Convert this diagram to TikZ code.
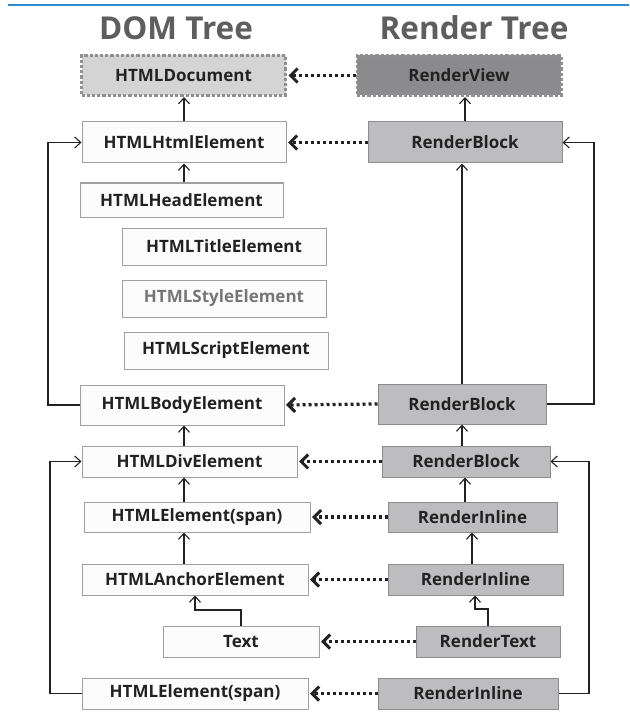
\documentclass[tikz,border=0pt]{standalone}
\usepackage{fontspec}
\setmainfont{Open Sans}
\usetikzlibrary{arrows.meta}
\definecolor{rule}{HTML}{2A8FD0}
\definecolor{headc}{HTML}{5E5E5E}
\definecolor{txt}{HTML}{222222}
\definecolor{domfill}{HTML}{FCFCFC}
\definecolor{domline}{HTML}{A0A0A0}
\definecolor{renfill}{HTML}{BDBDBF}
\definecolor{renline}{HTML}{8C8C8C}
\definecolor{viewfill}{HTML}{8B8B8D}
\definecolor{docfill}{HTML}{D4D4D4}
\definecolor{lnk}{HTML}{222222}
\begin{document}
\begin{tikzpicture}[x=1pt,y=-1pt,
  box/.style={rectangle, inner sep=0pt, line width=1pt, text=txt,
    font=\bfseries\fontsize{17}{20}\selectfont},
  dombox/.style={box, draw=domline, fill=domfill},
  renbox/.style={box, draw=renline, fill=renfill},
  rootbox/.style={box, draw=domline!90!black, line width=3pt, dash pattern=on 3.2pt off 2pt},
  title/.style={text=headc, font=\bfseries\fontsize{31.5}{36}\selectfont},
  link/.style={draw=lnk, line width=1.1pt,
    -{Straight Barb[length=6pt,width=11pt,line width=1.1pt]}},
  mapto/.style={draw=lnk, line width=3.2pt, dash pattern=on 3pt off 3pt, shorten >=1.5pt,
    -{Straight Barb[length=7pt,width=14pt,line width=3pt]}}]
\useasboundingbox (0,0) rectangle (629,714);
\fill[white] (0,0) rectangle (629,714);
% top rule
\coordinate (r1) at (8,5);
\coordinate (r2) at (629,5);
\draw[rule, line width=1.4pt] (r1) -- (r2);
% headings
\node[title] (tdom) at (176,28) {DOM Tree};
\node[title] (tren) at (474,28) {Render Tree};
% DOM tree
\node[rootbox, fill=docfill, minimum width=204pt, minimum height=40pt] (doc) at (183.5,75.5) {HTMLDocument};
\node[dombox, minimum width=204pt, minimum height=41pt] (html) at (184,142.5) {HTMLHtmlElement};
\node[dombox, minimum width=203pt, minimum height=34pt] (head) at (181.5,200) {HTMLHeadElement};
\node[dombox, minimum width=204pt, minimum height=37pt] (titl) at (224,246.5) {HTMLTitleElement};
\node[dombox, minimum width=204pt, minimum height=37pt, text=headc!85] (styl) at (224,298.5) {HTMLStyleElement};
\node[dombox, minimum width=204pt, minimum height=37pt] (scri) at (226,350.5) {HTMLScriptElement};
\node[dombox, minimum width=204pt, minimum height=40pt] (body) at (182,405) {HTMLBodyElement};
\node[dombox, minimum width=215pt, minimum height=31pt] (div) at (189.5,461.5) {HTMLDivElement};
\node[dombox, minimum width=226pt, minimum height=30pt] (span1) at (197,517) {HTMLElement(span)};
\node[dombox, minimum width=226pt, minimum height=31pt] (anch) at (195,579.5) {HTMLAnchorElement};
\node[dombox, minimum width=156pt, minimum height=31pt] (text) at (241,641.5) {Text};
\node[dombox, minimum width=226pt, minimum height=31pt] (span2) at (195,693.5) {HTMLElement(span)};
% Render tree
\node[rootbox, fill=viewfill, minimum width=204pt, minimum height=40pt] (view) at (459,75.5) {RenderView};
\node[renbox, minimum width=194pt, minimum height=41pt] (rb1) at (465,142.5) {RenderBlock};
\node[renbox, minimum width=168pt, minimum height=40pt] (rbb) at (462,404) {RenderBlock};
\node[renbox, minimum width=168pt, minimum height=31pt] (rbd) at (466,461.5) {RenderBlock};
\node[renbox, minimum width=169pt, minimum height=30pt] (ri1) at (472.5,517) {RenderInline};
\node[renbox, minimum width=175pt, minimum height=31pt] (ri2) at (475.5,579.5) {RenderInline};
\node[renbox, minimum width=144pt, minimum height=31pt] (rtext) at (488,641.5) {RenderText};
\node[renbox, minimum width=180pt, minimum height=31pt] (ri3) at (468,693.5) {RenderInline};
% guide coordinates for connectors
\coordinate (dx) at (184,0);
\coordinate (rx) at (465,0);
\coordinate (qx) at (472,0);
\coordinate (tk) at (195,610);
\coordinate (rk) at (475,609);
\coordinate (lx1) at (48,0);
\coordinate (rx1) at (594,0);
\coordinate (lx2) at (50,0);
\coordinate (rx2) at (589,0);
% DOM parent links
\draw[link] (html.north) -- (html.north |- doc.south);
\draw[link] (head.north -| dx) -- (html.south -| dx);
\draw[link] (div.north -| dx) -- (body.south -| dx);
\draw[link] (span1.north -| dx) -- (div.south -| dx);
\draw[link] (anch.north -| dx) -- (span1.south -| dx);
\draw[link] (text.north) |- (tk) -- (tk |- anch.south);
\draw[link] (body.west) -- (body.west -| lx1) |- (html.west);
\draw[link] (span2.west) -- (span2.west -| lx2) |- (div.west);
% Render parent links
\draw[link] (rb1.north) -- (rb1.north |- view.south);
\draw[link] (rbb.north) -- (rbb.north |- rb1.south);
\draw[link] (rbd.north -| rbb.south) -- (rbb.south);
\draw[link] (ri1.north -| rx) -- (rbd.south -| rx);
\draw[link] (ri2.north -| qx) -- (ri1.south -| qx);
\draw[link] (rtext.north) |- (rk) -- (rk |- ri2.south);
\draw[link] (rbb.east) -- (rbb.east -| rx1) |- (rb1.east);
\draw[link] (ri3.east) -- (ri3.east -| rx2) |- (rbd.east);
% render object -> DOM node
\draw[mapto] (view.west) -- (view.west -| doc.east);
\draw[mapto] (rb1.west) -- (html.east);
\draw[mapto] (rbb.west) -- (body.east);
\draw[mapto] (rbd.west) -- (div.east);
\draw[mapto] (ri1.west) -- (span1.east);
\draw[mapto] (ri2.west) -- (anch.east);
\draw[mapto] (rtext.west) -- (text.east);
\draw[mapto] (ri3.west) -- (span2.east);
\end{tikzpicture}
\end{document}
